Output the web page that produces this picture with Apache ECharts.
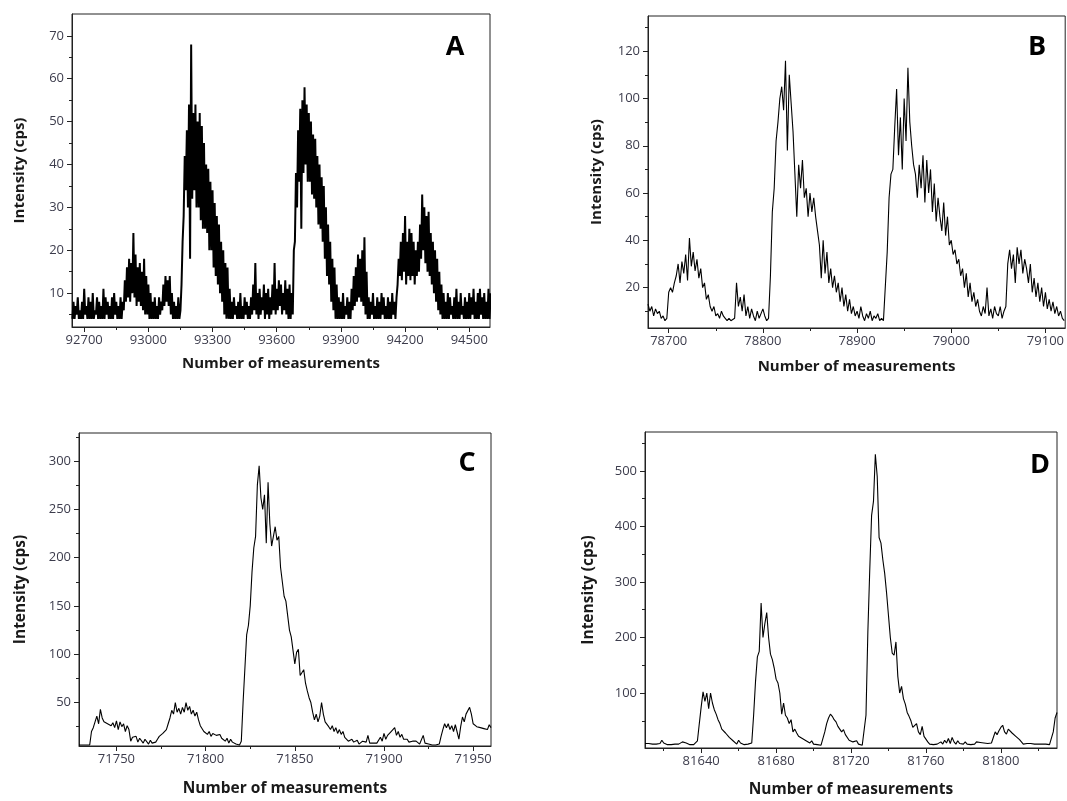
<!DOCTYPE html>
<html>
<head>
<meta charset="utf-8">
<script src="https://cdn.jsdelivr.net/npm/echarts@6/dist/echarts.min.js"></script>
<style>
html,body{margin:0;padding:0;background:#fff;}
#chart{width:1067px;height:801px;}
</style>
</head>
<body>
<div id="chart"></div>
<script>
// ---------- Panel A (measurements 92645.. step 10; low/high envelope of dense noisy trace)
const aStart = 92645, aStep = 10;
const aHi = [8,7,9,6,8,11,7,9,8,10,6,9,8,7,11,9,8,7,9,10,8,7,9,8,
  13,16,18,17,24,19,16,17,15,18,14,12,
  10,8,9,7,9,8,
  12,14,13,14,10,
  8,7,9,6,
  22,42,48,
  54,68,52,54,50,52,49,45,
  40,39,36,34,31,28,26,22,20,17,16,11,
  8,9,7,8,10,7,9,8,7,9,
  12,17,10,11,9,12,10,11,9,12,17,11,13,12,10,13,11,12,10,
  20,38,
  48,53,55,58,54,52,
  50,47,46,42,40,37,35,30,26,22,18,16,12,
  9,8,10,7,9,8,11,
  14,16,19,18,20,23,15,
  9,8,10,7,9,8,10,9,7,9,8,10,8,9,
  18,22,24,28,22,25,24,22,20,22,26,
  33,30,28,29,
  24,22,20,18,15,12,10,
  8,10,9,7,9,11,8,10,7,9,8,10,9,11,8,10,11,9,10,8,11,10];
const aLo = [4,4,5,4,4,4,5,4,4,4,4,5,4,4,4,4,5,4,4,4,5,4,4,4,
  6,8,9,8,10,9,7,8,7,6,5,5,
  4,4,4,4,4,5,
  6,7,8,7,5,
  4,4,4,4,
  12,28,34,
  30,18,32,34,30,30,27,25,
  25,24,20,20,16,14,12,10,8,5,4,4,
  4,4,5,4,4,4,4,5,4,4,
  5,6,5,4,5,6,4,5,4,5,6,5,6,7,5,6,5,4,4,
  5,22,
  30,36,25,38,40,36,
  36,33,32,30,26,25,22,18,14,12,8,6,4,
  4,4,4,4,5,4,4,
  6,7,8,9,8,7,5,
  4,4,5,4,4,4,4,5,4,4,4,4,5,4,
  12,14,13,15,12,14,13,14,12,14,15,
  18,20,17,15,
  14,12,10,8,6,5,4,
  4,4,4,5,4,4,4,4,5,4,4,4,4,5,4,4,4,5,4,4,4,4];
const aXTicks = [92700,93000,93300,93600,93900,94200,94500];
const aXMinor = [92850,93150,93450,93750,94050,94350];
const aYTicks = [10,20,30,40,50,60,70];
const aYMinor = [5,15,25,35,45,55,65];

// ---------- Panel B (measurements 78678.. step 2)
const bStart = 78678, bStep = 2;
const bVals = [13,10,12,8,11,9,10,7,8,6,7,
  18,
  20,18,22,
  25,30,22,31,26,34,23,41,29,35,27,
  32,24,28,20,22,15,17,12,
  10,12,8,9,7,10,8,7,6,7,6,6,7,
  22,12,16,10,17,8,
  12,7,11,8,6,10,7,9,11,8,6,7,
  25,52,62,82,90,
  100,105,95,116,78,110,98,
  86,68,50,72,62,74,58,62,50,60,52,58,50,44,
  38,24,40,26,35,22,28,20,25,
  18,22,14,20,12,17,10,15,9,12,8,
  10,7,12,8,6,9,7,10,6,8,7,9,6,7,6,6,
  35,58,68,70,88,
  104,76,92,70,100,82,113,90,80,72,
  68,58,72,62,76,56,74,60,70,52,64,48,58,50,
  44,56,42,50,38,40,34,36,30,32,
  25,28,20,26,16,22,14,18,12,15,10,
  8,12,9,20,8,11,7,12,9,8,12,7,10,12,
  30,36,28,34,22,37,30,36,26,32,
  28,22,30,18,24,16,22,14,20,12,18,11,15,10,14,9,12,8,10,7,6];
const bXTicks = [78700,78800,78900,79000,79100];
const bXMinor = [78750,78850,78950,79050];
const bYTicks = [20,40,60,80,100,120];
const bYMinor = [10,30,50,70,90,110,130];

// ---------- Panel C (measurements 71729.. step 1)
const cStart = 71729, cStep = 1;
const cVals = [6,6,6,6,6,6,6,
  20,24,30,36,28,43,
  34,30,32,28,30,26,29,24,31,
  22,30,25,28,20,26,22,
  10,14,12,15,9,13,11,8,12,10,7,11,8,6,9,12,
  15,13,18,16,22,28,
  34,42,38,50,40,44,
  38,45,40,50,42,46,38,42,36,40,
  32,26,28,20,22,17,20,
  15,18,20,16,14,17,13,15,
  10,13,8,12,9,11,7,6,6,
  10,50,85,120,130,150,185,210,222,275,295,
  262,250,265,215,278,235,212,
  210,232,218,222,190,175,160,
  155,140,125,118,120,90,102,105,78,76,
  84,70,62,55,50,40,32,38,30,36,
  50,38,30,28,25,
  22,26,20,24,18,22,17,20,14,16,
  10,8,12,9,8,11,7,9,10,8,9,16,8,7,8,8,8,9,14,10,
  18,12,16,14,20,18,24,16,20,14,17,12,
  10,12,9,11,10,8,10,9,7,8,16,8,6,7,6,
  6,7,6,8,7,15,22,28,
  24,28,22,26,20,27,25,
  12,25,
  35,30,38,40,45,38,
  28,30,25,27,24,26,23,25,22,27,24];
const cXTicks = [71750,71800,71850,71900,71950];
const cXMinor = [71775,71825,71875,71925];
const cYTicks = [50,100,150,200,250,300];
const cYMinor = [25,75,125,175,225,275,325];

// ---------- Panel D (measurements 81610.. step 1)
const dStart = 81610, dStep = 1;
const dVals = [9,8,9,7,8,9,8,10,9,15,
  10,8,7,8,7,9,8,7,8,8,
  12,15,10,8,7,8,7,9,14,45,
  75,102,85,100,72,100,82,70,62,52,
  45,35,38,28,30,20,22,14,12,8,
  15,10,8,7,7,8,7,10,60,120,
  165,175,262,200,225,245,200,170,160,145,
  125,118,100,62,82,60,55,45,52,30,
  35,28,22,24,18,15,14,12,10,14,
  8,9,7,7,6,8,30,45,55,62,
  58,52,48,40,38,30,34,25,22,15,
  18,12,10,14,8,7,6,7,60,210,
  320,420,445,530,490,380,370,340,315,280,
  240,200,172,168,192,130,100,112,90,80,
  65,58,50,38,35,45,30,25,40,22,
  20,12,8,6,7,6,8,7,12,8,
  15,10,18,9,20,12,8,14,9,7,
  8,12,8,10,7,9,8,12,9,11,
  8,10,13,9,8,10,9,30,25,32,
  38,42,30,26,35,33,28,30,22,20,
  16,12,8,10,9,8,9,7,8,10,
  8,9,8,7,8,9,7,8,30,55,
  65];
const dXTicks = [81640,81680,81720,81760,81800];
const dXMinor = [81620,81660,81700,81740,81780,81820];
const dYTicks = [100,200,300,400,500];
const dYMinor = [50,150,250,350,450,550];

const panelLetters = ['A','B','C','D'];
const xName = 'Number of measurements';
const yName = 'Intensity (cps)';

// ---------- build series data
const aData = [];
aLo.forEach((lo, i) => {
  aData.push([aStart + i * aStep, lo]);
  aData.push([aStart + i * aStep + aStep / 2, aHi[i]]);
});
const toXY = (start, step, vals) => vals.map((v, i) => [start + i * step, v]);
const bData = toXY(bStart, bStep, bVals);
const cData = toXY(cStart, cStep, cVals);
const dData = toXY(dStart, dStep, dVals);

// ---------- layout / style
const panels = [
  {grid:{left:72, top:14, width:418, height:313}, xr:[92643,94597], yr:[2.1,75.1],
   xt:aXTicks, xm:aXMinor, yt:aYTicks, ym:aYMinor, data:aData, lw:2, xGap:29, yGap:45, nameSize:15, letter:[455,47]},
  {grid:{left:648, top:16, width:418, height:312}, xr:[78678,79121], yr:[2.9,134.9],
   xt:bXTicks, xm:bXMinor, yt:bYTicks, ym:bYMinor, data:bData, lw:1.1, xGap:31, yGap:44, nameSize:15, letter:[1037,47]},
  {grid:{left:79, top:433, width:412, height:313}, xr:[71729,71960], yr:[5,329],
   xt:cXTicks, xm:cXMinor, yt:cYTicks, ym:cYMinor, data:cData, lw:1.1, xGap:35, yGap:50, nameSize:15.5, letter:[467,463]},
  {grid:{left:645, top:432, width:412, height:316}, xr:[81610,81830], yr:[1,570],
   xt:dXTicks, xm:dXMinor, yt:dYTicks, ym:dYMinor, data:dData, lw:1.1, xGap:34, yGap:48, nameSize:15.5, letter:[1040,465]}
];

const FONT = 'Open Sans';
const axisColor = '#222';
const labelColor = '#3c3c4c';

const grid = [], xAxis = [], yAxis = [], series = [], graphic = [];
panels.forEach((p, i) => {
  const nameStyle = {fontWeight:'bold', fontSize:p.nameSize, color:'#1a1a1a', fontFamily:FONT};
  grid.push(Object.assign({show:true, borderColor:axisColor, borderWidth:1, backgroundColor:'transparent', containLabel:false}, p.grid));
  xAxis.push({
    type:'value', gridIndex:i, min:p.xr[0], max:p.xr[1], position:'bottom',
    axisLine:{show:true, onZero:false, lineStyle:{color:axisColor, width:1}},
    axisTick:{show:true, inside:false, length:5, customValues:p.xt, lineStyle:{color:axisColor}},
    axisLabel:{show:true, customValues:p.xt, formatter:v => String(v), color:labelColor, fontSize:13, fontFamily:FONT, margin:7},
    splitLine:{show:false},
    name:xName, nameLocation:'middle', nameGap:p.xGap, nameTextStyle:nameStyle
  });
  xAxis.push({
    type:'value', gridIndex:i, min:p.xr[0], max:p.xr[1], position:'bottom',
    axisLine:{show:false, onZero:false},
    axisTick:{show:true, inside:false, length:3, customValues:p.xm, lineStyle:{color:axisColor}},
    axisLabel:{show:false}, splitLine:{show:false}
  });
  yAxis.push({
    type:'value', gridIndex:i, min:p.yr[0], max:p.yr[1], position:'left',
    axisLine:{show:true, onZero:false, lineStyle:{color:axisColor, width:1}},
    axisTick:{show:true, inside:false, length:5, customValues:p.yt, lineStyle:{color:axisColor}},
    axisLabel:{show:true, customValues:p.yt, formatter:v => String(v), color:labelColor, fontSize:13, fontFamily:FONT, margin:8},
    splitLine:{show:false},
    name:yName, nameLocation:'middle', nameGap:p.yGap, nameRotate:90, nameTextStyle:nameStyle
  });
  yAxis.push({
    type:'value', gridIndex:i, min:p.yr[0], max:p.yr[1], position:'left',
    axisLine:{show:false, onZero:false},
    axisTick:{show:true, inside:false, length:3, customValues:p.ym, lineStyle:{color:axisColor}},
    axisLabel:{show:false}, splitLine:{show:false}
  });
  series.push({
    type:'line', xAxisIndex:2*i, yAxisIndex:2*i, data:p.data,
    symbol:'none', showSymbol:false, clip:true,
    lineStyle:{color:'#000', width:p.lw, join:'bevel'}, emphasis:{disabled:true}, silent:true
  });
  graphic.push({
    type:'text', x:p.letter[0], y:p.letter[1], z:10,
    style:{text:panelLetters[i], font:'bold 27px "' + FONT + '"', fill:'#000', align:'center', verticalAlign:'middle', textAlign:'center', textVerticalAlign:'middle'}
  });
});

const chart = echarts.init(document.getElementById('chart'), null, {renderer:'canvas'});
chart.setOption({
  animation:false,
  backgroundColor:'#fff',
  grid, xAxis, yAxis, series, graphic
});
</script>
</body>
</html>
